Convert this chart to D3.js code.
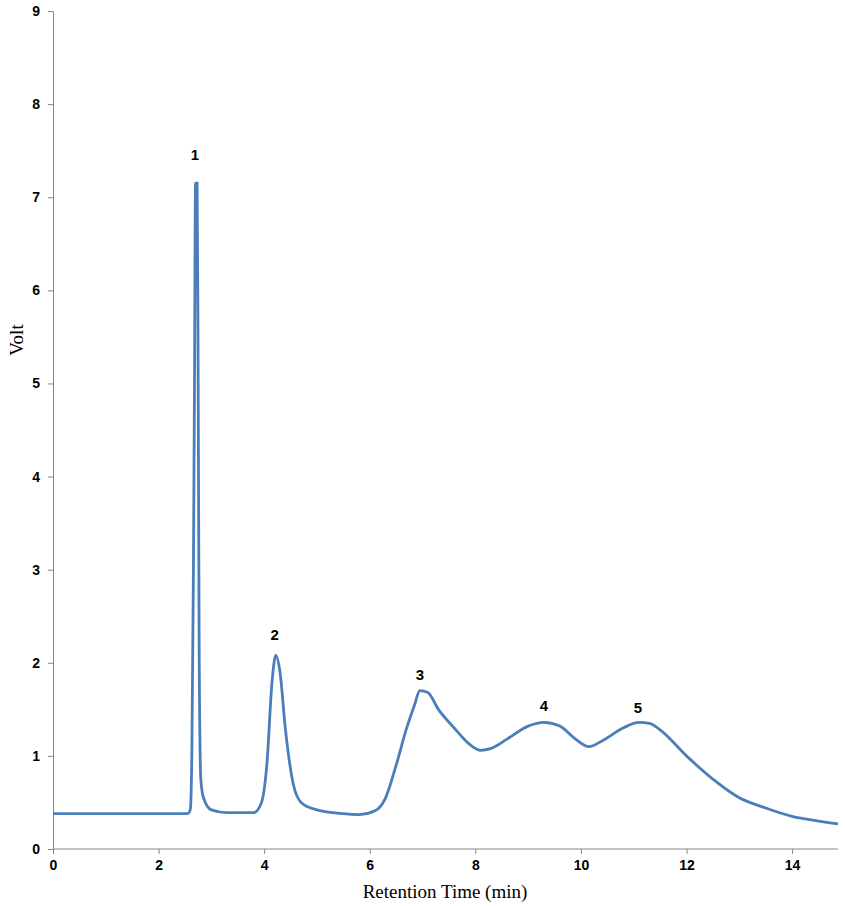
<!DOCTYPE html><html><head><meta charset="utf-8"><script src="https://d3js.org/d3.v7.min.js"></script>
<style>body{margin:0;background:#fff}</style></head><body><svg id="c" width="845" height="906"></svg>
<script>
const times=[0,0.5,1,1.5,2,2.55,2.6,2.63,2.66,2.68,2.7,2.73,2.75,2.77,2.8,2.85,3.0,3.3,3.8,3.95,4.05,4.15,4.22,4.3,4.4,4.55,4.7,5.0,5.5,5.8,6.1,6.3,6.5,6.7,6.85,6.95,7.1,7.3,7.6,7.9,8.1,8.3,8.6,9.0,9.3,9.6,9.9,10.15,10.4,10.8,11.1,11.3,11.5,12.0,12.5,13.0,13.5,14.0,14.5,14.87];
const volts=[0.38,0.38,0.38,0.38,0.38,0.38,0.42,1.0,3.0,5.0,7.15,7.15,5.0,2.0,0.75,0.55,0.42,0.39,0.39,0.5,0.9,1.8,2.08,1.9,1.3,0.7,0.5,0.42,0.38,0.37,0.41,0.55,0.9,1.3,1.55,1.7,1.68,1.5,1.3,1.12,1.06,1.08,1.18,1.32,1.36,1.32,1.18,1.1,1.16,1.3,1.36,1.35,1.28,1.0,0.75,0.55,0.44,0.35,0.3,0.27];
const peakLabels=["1","2","3","4","5"];
const peakX=[2.69,4.2,6.95,9.3,11.08];
const peakY=[7.4,2.25,1.82,1.48,1.46];
const xTicks=[0,2,4,6,8,10,12,14];
const yTicks=[0,1,2,3,4,5,6,7,8,9];
const svg=d3.select("#c");
const x=d3.scaleLinear().domain([0,14.87]).range([53,838]);
const y=d3.scaleLinear().domain([0,9]).range([849,11]);
const gx=svg.append("g").attr("transform","translate(0,849)").call(d3.axisBottom(x).tickValues(xTicks).tickSize(5).tickPadding(6));
const gy=svg.append("g").attr("transform","translate(53,0)").call(d3.axisLeft(y).tickValues(yTicks).tickSize(5).tickPadding(8));
[gx,gy].forEach(g=>{g.selectAll("path,line").attr("stroke","#868686");g.selectAll("text").attr("font-family","Liberation Sans, Arial").attr("font-weight","bold").attr("font-size",14).attr("fill","#000");});
gx.select(".domain").attr("d","M53,0H838");
svg.append("path").datum(times.map((t,i)=>[t,volts[i]])).attr("fill","none").attr("stroke","#4a7ebb").attr("stroke-width",2.8)
 .attr("d",d3.line().x(d=>x(d[0])).y(d=>y(d[1])).curve(d3.curveMonotoneX));
svg.selectAll(".pl").data(peakLabels).enter().append("text").attr("x",(d,i)=>x(peakX[i])).attr("y",(d,i)=>y(peakY[i])).attr("text-anchor","middle")
 .attr("font-family","Liberation Sans, Arial").attr("font-weight","bold").attr("font-size",15).text(d=>d);
svg.append("text").attr("x",445).attr("y",898).attr("text-anchor","middle").attr("font-family","Liberation Serif, Times New Roman").attr("font-size",19).text("Retention Time (min)");
svg.append("text").attr("transform","translate(23,340) rotate(-90)").attr("text-anchor","middle").attr("font-family","Liberation Serif, Times New Roman").attr("font-size",19).text("Volt");
</script></body></html>
